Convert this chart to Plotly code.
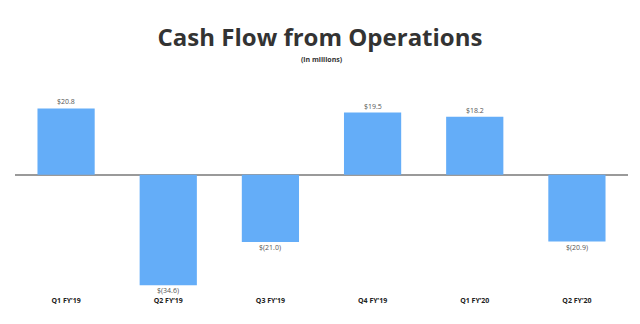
import plotly.graph_objects as go

categories = ["Q1 FY’19", "Q2 FY’19", "Q3 FY’19", "Q4 FY’19", "Q1 FY’20", "Q2 FY’20"]
values = [20.8, -34.6, -21.0, 19.5, 18.2, -20.9]
value_labels = ["$20.8", "$(34.6)", "$(21.0)", "$19.5", "$18.2", "$(20.9)"]

W, H = 640, 324
T, B = 79, 31
PH = H - T - B

fig = go.Figure(go.Bar(
    x=categories, y=values,
    marker=dict(color="#64adf8", line=dict(width=0)),
    width=0.56, cliponaxis=False,
))

annotations = [dict(text="<b>(in millions)</b>", x=0.5, y=(H - B - 59) / PH, xref="paper", yref="paper",
                    yanchor="middle", showarrow=False,
                    font=dict(family="Open Sans", size=7, color="#333333"))]
for c, v, lab in zip(categories, values, value_labels):
    annotations.append(dict(
        x=c, y=v, xref="x", yref="y", text=lab, showarrow=False,
        yanchor="bottom" if v >= 0 else "top", yshift=0 if v >= 0 else 1,
        font=dict(family="Open Sans", size=7, color="#555555"),
    ))

fig.update_layout(
    width=W, height=H,
    margin=dict(l=15, r=12, t=T, b=B),
    paper_bgcolor="white", plot_bgcolor="white",
    showlegend=False,
    title=dict(text="<b>Cash Flow from Operations</b>", x=0.5, xanchor="center",
               y=1 - 38 / H, yanchor="middle", yref="container",
               font=dict(family="Open Sans", size=24, color="#333333")),
    annotations=annotations,
    xaxis=dict(showgrid=False, showline=False, ticks="", ticklabelstandoff=2,
               tickfont=dict(family="Open Sans", size=7, color="#222222", weight="bold"),
               range=[-0.5, 5.5]),
    yaxis=dict(range=[-37, 30], showgrid=False, showticklabels=False, zeroline=True,
               zerolinecolor="#9a9a9a", zerolinewidth=1.5, showline=False),
)

fig.write_html("out.html")
